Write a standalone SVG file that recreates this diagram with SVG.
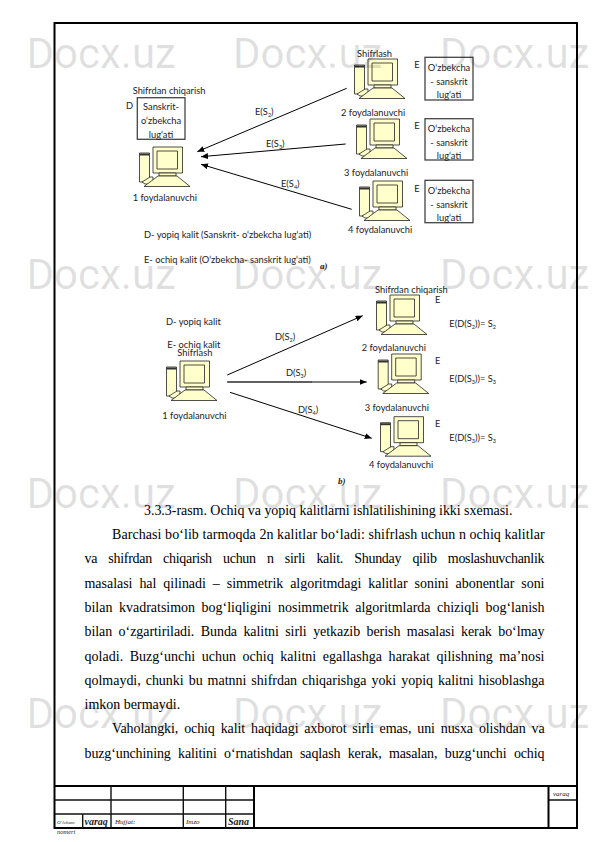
<svg xmlns="http://www.w3.org/2000/svg" xmlns:xlink="http://www.w3.org/1999/xlink" width="595" height="842" viewBox="0 0 595 842">
<style>
.l{font-family:"Lato","Liberation Sans",sans-serif;font-size:9.300px;fill:#222}
.m{text-anchor:middle}
.s{font-size:5.500px}
.b{font-family:"Liberation Serif",serif;font-size:14px;fill:#000}
.i{font-family:"Liberation Serif",serif;font-style:italic;fill:#222}
.bi{font-weight:bold}
.w{font-family:"Roboto","Liberation Sans",sans-serif;font-size:42px;fill:#000;fill-opacity:.125}
.box{fill:#fff;stroke:#444;stroke-width:1.3}
.f{fill:none;stroke:#000;stroke-width:2}
.t{fill:none;stroke:#111;stroke-width:1.4}
.c{fill:#ffffcc;stroke:#222;stroke-width:.8;stroke-linejoin:round}
.a{fill:none;stroke:#000;stroke-width:1;marker-end:url(#arr)}
</style>
<defs>
<marker id="arr" markerUnits="userSpaceOnUse" markerWidth="8" markerHeight="7" refX="7" refY="3" orient="auto"><path d="M0 0L7 3L0 6Z" fill="#000"/></marker>
<g id="pc">
<rect x="-13.5" y="6" width="10" height="29" class="c"/>
<rect x="-13.5" y="6.500" width="10" height="2" fill="#333"/>
<path d="M-11 35L-3 30H0V37H-8Z" class="c"/>
<rect x="0" y="0" width="29.500" height="26" class="c"/>
<rect x="4" y="4" width="20.500" height="18" class="c"/>
<rect x="6" y="26" width="17" height="3" class="c"/>
<path d="M5 29H24L37 39.500H-9Z" class="c"/>
</g>
</defs>
<rect width="595" height="842" fill="#fff"/>
<g id="frame">
<rect x="54.500" y="23" width="522.500" height="805" class="f"/>
<path class="f" d="M54.500 786H577"/>
<path class="t" d="M54.500 800H254M54.500 814H254M548.500 800H577M82.700 814V828M111 786V828M183.300 786V828M225.700 786V828"/>
<path class="f" d="M254 786V828M548.500 786V828"/>
<text class="i" x="57" y="824" font-size="5">O‘lcham</text>
<text class="i bi" x="84.500" y="825" font-size="10">varaq</text>
<text class="i" x="115" y="824" font-size="7">Hujjat:</text>
<text class="i" x="186" y="824" font-size="7">Imzo</text>
<text class="i bi" x="228" y="825" font-size="10">Sana</text>
<text class="i" x="57" y="834" font-size="6.500">nomeri</text>
<text class="i" x="553" y="796" font-size="7">varaq</text>
</g>
<g id="connectors">
<path class="a" d="M346.700 88.300L197.300 151.700"/>
<path class="a" d="M345.700 144L201 156.700"/>
<path class="a" d="M351.700 209.300L201 164.300"/>
<path class="a" d="M227.300 375L362.700 315.700"/>
<path class="a" d="M227.300 382H366.700"/>
<path d="M227.300 382H312" fill="none" stroke="#555" stroke-width="1.400"/>
<path class="a" d="M230 392.300L371.700 438.300"/>
<text class="l" x="255" y="115">E(S<tspan class="s" dy="2">2</tspan><tspan dy="-2">)</tspan></text>
<text class="l" x="266" y="147">E(S<tspan class="s" dy="2">3</tspan><tspan dy="-2">)</tspan></text>
<text class="l" x="281" y="187">E(S<tspan class="s" dy="2">4</tspan><tspan dy="-2">)</tspan></text>
<text class="l" x="275" y="340">D(S<tspan class="s" dy="2">2</tspan><tspan dy="-2">)</tspan></text>
<text class="l" x="286" y="376">D(S<tspan class="s" dy="2">3</tspan><tspan dy="-2">)</tspan></text>
<text class="l" x="298" y="413">D(S<tspan class="s" dy="2">4</tspan><tspan dy="-2">)</tspan></text>
</g>
<g id="a-user1">
<text class="l" x="132.700" y="94">Shifrdan chiqarish</text>
<text class="l" x="126" y="109">D</text>
<rect class="box" x="137.300" y="97.700" width="47.700" height="41.600"/>
<text class="l m" x="161" y="110">Sanskrit-</text>
<text class="l m" x="161" y="124">o‘zbekcha</text>
<text class="l m" x="161" y="138">lug‘ati</text>
<use xlink:href="#pc" href="#pc" x="153" y="147"/>
<text class="l" x="132.700" y="201">1 foydalanuvchi</text>
</g>
<g id="a-user2">
<text class="l" x="357" y="57">Shifrlash</text>
<use xlink:href="#pc" href="#pc" x="368" y="59"/>
<text class="l" x="341" y="116">2 foydalanuvchi</text>
<text class="l" x="414.300" y="68">E</text>
<rect class="box" x="425" y="57.300" width="48" height="42.700"/>
<text class="l m" x="449" y="71">O‘zbekcha</text>
<text class="l m" x="449" y="85">- sanskrit</text>
<text class="l m" x="449" y="98">lug‘ati</text>
</g>
<g id="a-user3">
<use xlink:href="#pc" href="#pc" x="370" y="119"/>
<text class="l" x="344" y="176">3 foydalanuvchi</text>
<text class="l" x="414.300" y="129">E</text>
<rect class="box" x="425" y="118.700" width="48" height="41.300"/>
<text class="l m" x="449" y="132">O‘zbekcha</text>
<text class="l m" x="449" y="146">- sanskrit</text>
<text class="l m" x="449" y="159">lug‘ati</text>
</g>
<g id="a-user4">
<use xlink:href="#pc" href="#pc" x="373" y="181"/>
<text class="l" x="348" y="233">4 foydalanuvchi</text>
<text class="l" x="414.300" y="192">E</text>
<rect class="box" x="425" y="180.300" width="48" height="42.400"/>
<text class="l m" x="449" y="194">O‘zbekcha</text>
<text class="l m" x="449" y="208">- sanskrit</text>
<text class="l m" x="449" y="221">lug‘ati</text>
</g>
<g id="a-legend">
<text class="l" x="144" y="238">D- yopiq kalit (Sanskrit- o‘zbekcha lug‘ati)</text>
<text class="l" x="144" y="263">E- ochiq kalit (O‘zbekcha- sanskrit lug‘ati)</text>
<text class="i bi" x="320" y="269" font-size="9">a)</text>
</g>
<g id="b-user1">
<text class="l" x="166" y="325">D- yopiq kalit</text>
<text class="l" x="167.300" y="348">E- ochiq kalit</text>
<text class="l" x="177.300" y="356">Shifrlash</text>
<use xlink:href="#pc" href="#pc" x="180" y="361"/>
<text class="l" x="162.300" y="419">1 foydalanuvchi</text>
</g>
<g id="b-user2">
<text class="l" x="375" y="293">Shifrdan chiqarish</text>
<use xlink:href="#pc" href="#pc" x="390" y="295"/>
<text class="l" x="361.700" y="351">2 foydalanuvchi</text>
<text class="l" x="435" y="303">E</text>
<text class="l" x="449.300" y="327">E(D(S<tspan class="s" dy="2">2</tspan><tspan dy="-2">))= S</tspan><tspan class="s" dy="2">2</tspan></text>
</g>
<g id="b-user3">
<use xlink:href="#pc" href="#pc" x="391.700" y="354"/>
<text class="l" x="364.700" y="411">3 foydalanuvchi</text>
<text class="l" x="435" y="364">E</text>
<text class="l" x="449.300" y="382">E(D(S<tspan class="s" dy="2">3</tspan><tspan dy="-2">))= S</tspan><tspan class="s" dy="2">3</tspan></text>
</g>
<g id="b-user4">
<use xlink:href="#pc" href="#pc" x="394" y="416.700"/>
<text class="l" x="369" y="468">4 foydalanuvchi</text>
<text class="l" x="435" y="427">E</text>
<text class="l" x="449.300" y="441">E(D(S<tspan class="s" dy="2">3</tspan><tspan dy="-2">))= S</tspan><tspan class="s" dy="2">3</tspan></text>
<text class="i bi" x="338" y="484" font-size="9">b)</text>
</g>
<g id="body">
<text class="b" x="144" y="515" textLength="368.400">3.3.3-rasm. Ochiq va yopiq kalitlarni ishlatilishining ikki sxemasi.</text>
<text class="b" x="112" y="539" textLength="432.600" word-spacing="0">Barchasi bo‘lib tarmoqda 2n kalitlar bo‘ladi: shifrlash uchun n ochiq kalitlar</text>
<text class="b" x="84.500" y="563.300" textLength="460" word-spacing="8">va shifrdan chiqarish uchun n sirli kalit. Shunday qilib moslashuvchanlik</text>
<text class="b" x="84.500" y="587.600" textLength="460" word-spacing="3.500">masalasi hal qilinadi – simmetrik algoritmdagi kalitlar sonini abonentlar soni</text>
<text class="b" x="84.500" y="611.900" textLength="460" word-spacing="3">bilan kvadratsimon bog‘liqligini nosimmetrik algoritmlarda chiziqli bog‘lanish</text>
<text class="b" x="84.500" y="636.200" textLength="460" word-spacing="3">bilan o‘zgartiriladi. Bunda kalitni sirli yetkazib berish masalasi kerak bo‘lmay</text>
<text class="b" x="84.500" y="660.500" textLength="460" word-spacing="3">qoladi. Buzg‘unchi uchun ochiq kalitni egallashga harakat qilishning ma’nosi</text>
<text class="b" x="84.500" y="684.800" textLength="460" word-spacing="1.500">qolmaydi, chunki bu matnni shifrdan chiqarishga yoki yopiq kalitni hisoblashga</text>
<text class="b" x="84.500" y="709.100">imkon bermaydi.</text>
<text class="b" x="112" y="733.400" textLength="432.600" word-spacing="2.500">Vaholangki, ochiq kalit haqidagi axborot sirli emas, uni nusxa olishdan va</text>
<text class="b" x="84.500" y="757.700" textLength="460" word-spacing="4">buzg‘unchining kalitini o‘rnatishdan saqlash kerak, masalan, buzg‘unchi ochiq</text>
</g>
<g id="watermark">
<text class="w" x="26.500" y="68">Docx.uz</text><text class="w" x="233" y="68">Docx.uz</text><text class="w" x="440" y="68">Docx.uz</text>
<text class="w" x="26.500" y="289">Docx.uz</text><text class="w" x="233" y="289">Docx.uz</text><text class="w" x="440" y="289">Docx.uz</text>
<text class="w" x="26.500" y="508">Docx.uz</text><text class="w" x="233" y="508">Docx.uz</text><text class="w" x="440" y="508">Docx.uz</text>
<text class="w" x="26.500" y="728">Docx.uz</text><text class="w" x="233" y="728">Docx.uz</text><text class="w" x="440" y="728">Docx.uz</text>
</g>
</svg>
